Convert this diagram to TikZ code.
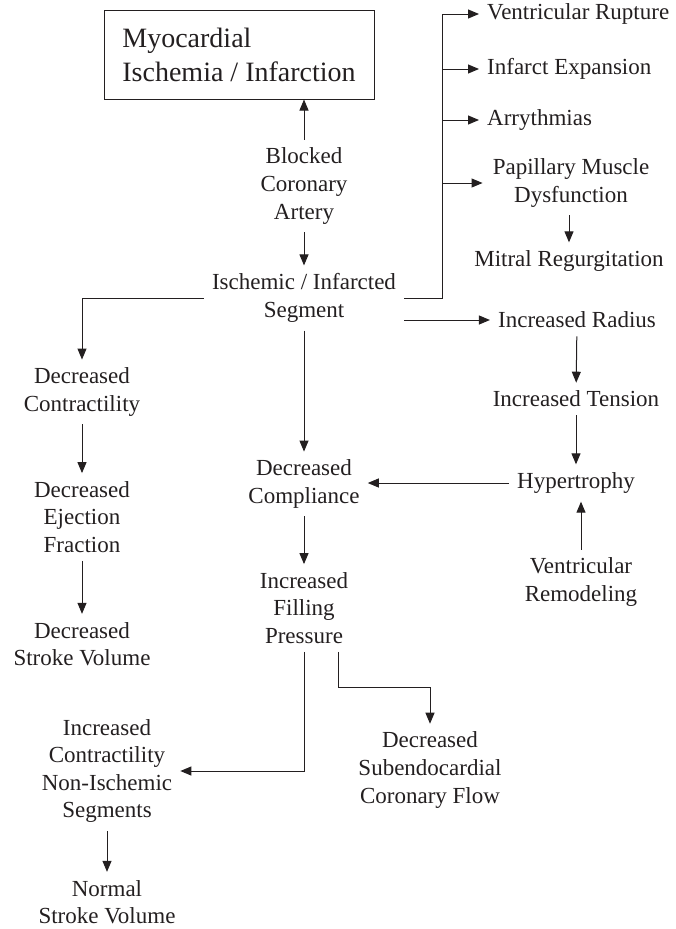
\documentclass[tikz,border=0pt]{standalone}
\usepackage{fontspec}
\setmainfont{Liberation Serif}
\usetikzlibrary{arrows.meta,calc}
\definecolor{ink}{HTML}{231F20}
\tikzset{
  txt/.style={font=\fontsize{23}{27.6}\selectfont, align=center, inner sep=8pt, text=ink},
  arr/.style={draw=ink, line width=1pt, -{Triangle[length=11pt,width=9pt]}},
  ln/.style={draw=ink, line width=1pt},
}
\begin{document}
\begin{tikzpicture}[x=1pt,y=-1pt]
\useasboundingbox (0,0) rectangle (675,929);
% top box
\node[draw=ink, line width=1pt, minimum width=270pt, minimum height=89pt, inner sep=0pt,
      font=\fontsize{28}{34}\selectfont, align=left, text=ink] (box) at (239,54.5)
      {Myocardial\\Ischemia / Infarction};
% center column
\node[txt] (bca) at (304,186) {Blocked\\Coronary\\Artery};
\node[txt] (ics) at (304,298) {Ischemic / Infarcted\\Segment};
\node[txt] (dcomp) at (304,484) {Decreased\\Compliance};
\node[txt] (ifp) at (304,608) {Increased\\Filling\\Pressure};
\node[txt] (dscf) at (430,770) {Decreased\\Subendocardial\\Coronary Flow};
% left column
\node[txt] (dc) at (82,392) {Decreased\\Contractility};
\node[txt] (def) at (82,517) {Decreased\\Ejection\\Fraction};
\node[txt] (dsv) at (82,644) {Decreased\\Stroke Volume};
\node[txt] (icns) at (107,771) {Increased\\Contractility\\Non-Ischemic\\Segments};
\node[txt] (nsv) at (107,902) {Normal\\Stroke Volume};
% right column
\node[txt, anchor=west] (vrup) at (479,14) {Ventricular Rupture};
\node[txt, anchor=west] (ie) at (479,69) {Infarct Expansion};
\node[txt, anchor=west] (ar) at (479,120) {Arrythmias};
\node[txt] (pmd) at (571,183) {Papillary Muscle\\Dysfunction};
\node[txt] (mr) at (569,261) {Mitral Regurgitation};
\node[txt] (ir) at (577,320) {Increased Radius};
\node[txt] (it) at (576,399) {Increased Tension};
\node[txt] (hy) at (576,483) {Hypertrophy};
\node[txt] (vrm) at (581,582) {Ventricular\\Remodeling};
% connectors
\draw[arr] (bca.north) -- (bca.north |- box.south);
\draw[arr] (bca) -- (ics);
\draw[arr] (ics.west) -| (dc.north);
\draw[arr] (dc) -- (def);
\draw[arr] (def) -- (dsv);
\draw[arr] (ics) -- (dcomp);
\draw[arr] (dcomp) -- (ifp);
\draw[arr] (ifp.south) |- (icns.east);
\draw[arr] ([xshift=34pt]ifp.south) |- ([yshift=36pt]dscf.north) -- (dscf.north);
\draw[arr] (icns) -- (nsv);
% bracket
\coordinate (bx) at (442,297);
\draw[arr] (ics.east) -- (ics.east -| bx) |- (vrup.west);
\draw[arr] (bx |- ie.west) -- (ie.west);
\draw[arr] (bx |- ar.west) -- (ar.west);
\draw[arr] (bx |- pmd.west) -- ([xshift=-2pt]pmd.west);
\draw[arr] (pmd.south -| mr.north) -- (mr.north);
\draw[arr] (ics.east |- ir.west) -- (ir.west);
\draw[arr] (ir) -- (it);
\draw[arr] (it) -- (hy);
\draw[arr] (vrm.north) -- (vrm.north |- hy.south);
\draw[arr] (hy.west) -- (hy.west -| dcomp.east);
\end{tikzpicture}
\end{document}
